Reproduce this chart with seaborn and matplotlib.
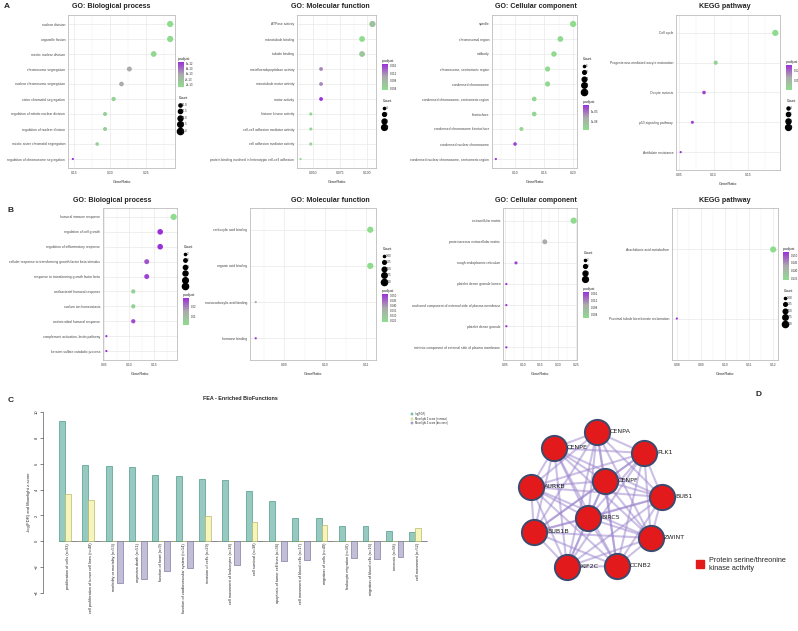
import itertools
import numpy as np
import pandas as pd
import matplotlib
matplotlib.use("Agg")
import matplotlib.pyplot as plt
import seaborn as sns
from matplotlib.colors import LinearSegmentedColormap, Normalize
from matplotlib.cm import ScalarMappable
from matplotlib.lines import Line2D
from matplotlib.patches import Patch
from matplotlib.ticker import AutoMinorLocator

sns.set_theme(style="white")
plt.rcParams["font.family"] = ["Liberation Sans", "DejaVu Sans"]

W, H = 798, 631

# ---------------- A: enrichment, first gene set ----------------
a_bp_terms = ["nuclear division", "organelle fission", "mitotic nuclear division",
              "chromosome segregation", "nuclear chromosome segregation",
              "sister chromatid segregation", "regulation of mitotic nuclear division",
              "regulation of nuclear division", "mitotic sister chromatid segregation",
              "regulation of chromosome segregation"]
a_bp_ratio = [0.284, 0.284, 0.261, 0.227, 0.216, 0.205, 0.193, 0.193, 0.182, 0.148]
a_bp_count = [25, 25, 23, 20, 19, 18, 17, 17, 16, 13]
a_bp_padj = [1.0e-13, 1.2e-13, 1.5e-13, 5.6e-13, 5.8e-13, 2.0e-13, 2.2e-13, 2.4e-13, 2.0e-13, 1.05e-12]

a_mf_terms = ["ATPase activity", "microtubule binding", "tubulin binding",
              "metalloendopeptidase activity", "microtubule motor activity", "motor activity",
              "histone kinase activity", "cell-cell adhesion mediator activity",
              "cell adhesion mediator activity",
              "protein binding involved in heterotypic cell-cell adhesion"]
a_mf_ratio = [0.1048, 0.0952, 0.0952, 0.0571, 0.0571, 0.0571, 0.0476, 0.0476, 0.0476, 0.0381]
a_mf_count = [11, 10, 10, 6, 6, 6, 5, 5, 5, 4]
a_mf_padj = [0.007, 0.003, 0.006, 0.012, 0.012, 0.017, 0.004, 0.004, 0.004, 0.003]

a_cc_terms = ["spindle", "chromosomal region", "midbody", "chromosome, centromeric region",
              "condensed chromosome", "condensed chromosome, centromeric region", "kinetochore",
              "condensed chromosome kinetochore", "condensed nuclear chromosome",
              "condensed nuclear chromosome, centromeric region"]
a_cc_ratio = [0.200, 0.178, 0.167, 0.156, 0.156, 0.133, 0.133, 0.111, 0.100, 0.067]
a_cc_count = [18, 16, 15, 14, 14, 12, 12, 10, 9, 6]
a_cc_padj = [1.0e-6, 1.2e-6, 1.3e-6, 1.5e-6, 1.5e-6, 1.8e-6, 1.8e-6, 2.0e-6, 1.2e-5, 1.3e-5]

a_kegg_terms = ["Cell cycle", "Progesterone-mediated oocyte maturation", "Oocyte meiosis",
                "p53 signaling pathway", "Antifolate resistance"]
a_kegg_ratio = [0.190, 0.103, 0.086, 0.069, 0.052]
a_kegg_count = [11, 6, 5, 4, 3]
a_kegg_padj = [0.001, 0.004, 0.024, 0.025, 0.026]

# ---------------- B: enrichment, second gene set ----------------
b_bp_terms = ["humoral immune response", "regulation of cell growth",
              "regulation of inflammatory response",
              "cellular response to transforming growth factor beta stimulus",
              "response to transforming growth factor beta", "antibacterial humoral response",
              "sodium ion homeostasis", "antimicrobial humoral response",
              "complement activation, lectin pathway", "keratan sulfate catabolic process"]
b_bp_ratio = [0.189, 0.162, 0.162, 0.135, 0.135, 0.108, 0.108, 0.108, 0.054, 0.054]
b_bp_count = [7, 6, 6, 5, 5, 4, 4, 4, 2, 2]
b_bp_padj = [0.001, 0.028, 0.028, 0.024, 0.026, 0.004, 0.004, 0.025, 0.028, 0.028]

b_mf_terms = ["carboxylic acid binding", "organic acid binding",
              "monocarboxylic acid binding", "hormone binding"]
b_mf_ratio = [0.111, 0.111, 0.083, 0.083]
b_mf_count = [4, 4, 3, 3]
b_mf_padj = [0.024, 0.024, 0.038, 0.051]

b_cc_terms = ["extracellular matrix", "proteinaceous extracellular matrix",
              "rough endoplasmic reticulum", "platelet dense granule lumen",
              "anchored component of external side of plasma membrane",
              "platelet dense granule",
              "intrinsic component of external side of plasma membrane"]
b_cc_ratio = [0.243, 0.162, 0.081, 0.054, 0.054, 0.054, 0.054]
b_cc_count = [9, 6, 3, 2, 2, 2, 2]
b_cc_padj = [0.002, 0.0095, 0.016, 0.017, 0.017, 0.017, 0.017]

b_kegg_terms = ["Arachidonic acid metabolism", "Proximal tubule bicarbonate reclamation"]
b_kegg_ratio = [0.120, 0.080]
b_kegg_count = [3, 2]
b_kegg_padj = [0.134, 0.152]

# ---------------- C: Moonlight FEA ----------------
c_terms = ["proliferation of cells (n=93)", "cell proliferation of tumor cell lines (n=48)",
           "morbidity or mortality (n=53)", "organism death (n=51)",
           "function of heart (n=9)", "function of cardiovascular system (n=14)",
           "invasion of cells (n=29)", "cell movement of leukocytes (n=18)",
           "cell survival (n=38)", "apoptosis of tumor cell lines (n=36)",
           "cell movement of blood cells (n=17)", "migration of cells (n=49)",
           "leukocyte migration (n=16)", "migration of blood cells (n=16)",
           "necrosis (n=58)", "cell movement (n=52)"]
c_logfdr = [9.28, 5.88, 5.80, 5.75, 5.13, 5.03, 4.85, 4.77, 3.87, 3.09, 1.78, 1.78, 1.16, 1.16, 0.80, 0.72]
c_z_up = [3.69, 3.22, 0, 0, 0, 0, 1.93, 0, 1.47, 0, 0, 1.26, 0, 0, 0, 1.06]
c_z_down = [0, 0, -3.22, -2.89, -2.27, -2.06, 0, -1.80, 0, -1.49, -1.47, 0, -1.31, -1.34, -1.21, 0]
c_series = ["-log(FDR)", "Moonlight Z score (increase)", "Moonlight Z score (decrease)"]

# ---------------- D: PPI network ----------------
d_genes = ["CENPA", "CENPE", "PLK1", "CENPF", "AURKB", "BUB1", "BIRC5",
           "BUB1B", "ZWINT", "KIF2C", "CCNB2"]
d_edges = list(itertools.combinations(d_genes, 2))
d_module = "Protein serine/threonine\nkinase activity"

# layout of the network drawing (figure pixels)
net_layout = {"CENPA": (597, 432), "CENPE": (554, 448), "PLK1": (644, 453),
              "CENPF": (605, 481), "AURKB": (531, 487), "BUB1": (662, 497),
              "BIRC5": (588, 518), "BUB1B": (534, 532), "ZWINT": (651, 538),
              "KIF2C": (567, 567), "CCNB2": (617, 566)}

cmap = LinearSegmentedColormap.from_list("padj", ["#8fdc8f", "#ababab", "#9b30d9"])
SIZES = (2.5, 20)

fig = plt.figure(figsize=(W / 100, H / 100), dpi=100)


def px_axes(left, top, right, bottom):
    return fig.add_axes([left / W, 1 - bottom / H, (right - left) / W, (bottom - top) / H])


def dotplot(box, title, tx, terms, ratio, count, padj, xticks, xlabels,
            breaks, break_labels, pticks, plabels, cbar_box, count_pos):
    ax = px_axes(*box)
    n = len(terms)
    df = pd.DataFrame({"GeneRatio": ratio, "Count": count, "p.adjust": padj, "pos": np.arange(n)})
    norm = Normalize(min(padj), max(padj))
    cmin, cmax = min(count), max(count)
    sns.scatterplot(data=df, x="GeneRatio", y="pos", hue="p.adjust", size="Count",
                    palette=cmap, hue_norm=norm, sizes=SIZES, size_norm=(cmin, cmax),
                    linewidth=0, legend=False, ax=ax, zorder=3)
    lo, hi = min(ratio), max(ratio)
    pad = (hi - lo) * 0.05
    ax.set_xlim(lo - pad, hi + pad)
    ax.set_ylim(n - 0.4, -0.6)
    ax.set_yticks(range(n))
    ax.set_yticklabels(terms)
    ax.set_xticks(xticks)
    ax.set_xticklabels(xlabels)
    ax.xaxis.set_minor_locator(AutoMinorLocator(2))
    ax.grid(True, which="major", color="#e6e6e6", lw=0.45)
    ax.grid(True, which="minor", axis="x", color="#f0f0f0", lw=0.3)
    ax.set_axisbelow(True)
    for s in ax.spines.values():
        s.set_color("#bdbdbd")
        s.set_linewidth(0.6)
    ax.tick_params(labelsize=2.4, length=1, width=0.3, pad=1, colors="#444444")
    ax.set_xlabel("GeneRatio", fontsize=2.8, labelpad=1, color="#222222")
    ax.set_ylabel("")
    fig.text(tx / W, 1 - box[1] / H + 8 / H, title, ha="center", va="center",
             fontsize=5.1, fontweight="bold", color="#222222")

    # colour bar for p.adjust
    cax = px_axes(*cbar_box)
    cb = fig.colorbar(ScalarMappable(norm=norm, cmap=cmap), cax=cax)
    cb.outline.set_visible(False)
    cb.set_ticks(pticks, labels=plabels)
    cax.tick_params(labelsize=2.1, length=0, pad=1)
    fig.text(cbar_box[0] / W, 1 - (cbar_box[1] - 1) / H, "p.adjust", fontsize=2.5,
             ha="left", va="bottom")

    # size legend for Count
    handles = []
    for b, lab in zip(breaks, break_labels):
        area = SIZES[0] + (b - cmin) / (cmax - cmin) * (SIZES[1] - SIZES[0])
        handles.append(Line2D([], [], marker="o", ls="", color="black",
                              markersize=np.sqrt(area), label=lab))
    ax.legend(handles=handles, title="Count", loc="upper left",
              bbox_to_anchor=(count_pos[0] / W, 1 - count_pos[1] / H),
              bbox_transform=fig.transFigure, frameon=False, fontsize=2.1,
              title_fontsize=2.5, borderpad=0, labelspacing=0.85,
              handletextpad=0.3, handlelength=1.0, alignment="left")
    return ax


# ---- row A
dotplot((68, 15, 175, 168), "GO: Biological process", 111,
        a_bp_terms, a_bp_ratio, a_bp_count, a_bp_padj,
        [0.15, 0.20, 0.25], ["0.15", "0.20", "0.25"],
        [15, 17.5, 20, 22.5, 25], ["15.0", "17.5", "20.0", "22.5", "25.0"],
        [2e-13, 4e-13, 6e-13, 8e-13, 1e-12], ["2e-13", "4e-13", "6e-13", "8e-13", "1e-12"],
        (178, 62, 184, 87), (177, 95))
dotplot((297, 15, 376, 168), "GO: Molecular function", 330,
        a_mf_terms, a_mf_ratio, a_mf_count, a_mf_padj,
        [0.050, 0.075, 0.100], ["0.050", "0.075", "0.100"],
        [4, 6, 8, 10], ["4", "6", "8", "10"],
        [0.004, 0.008, 0.012, 0.016], ["0.004", "0.008", "0.012", "0.016"],
        (382, 64, 388, 90), (381, 98))
dotplot((492, 15, 577, 168), "GO: Cellular component", 536,
        a_cc_terms, a_cc_ratio, a_cc_count, a_cc_padj,
        [0.10, 0.15, 0.20], ["0.10", "0.15", "0.20"],
        [6, 9, 12, 15, 18], ["6", "9", "12", "15", "18"],
        [5e-6, 1e-5], ["5e-06", "1e-05"],
        (583, 105, 589, 130), (581, 56))
dotplot((676, 15, 780, 170), "KEGG pathway", 725,
        a_kegg_terms, a_kegg_ratio, a_kegg_count, a_kegg_padj,
        [0.05, 0.10, 0.15], ["0.05", "0.10", "0.15"],
        [4, 6, 8, 10], ["4", "6", "8", "10"],
        [0.01, 0.02], ["0.01", "0.02"],
        (786, 65, 792, 90), (785, 98))

# ---- row B
dotplot((103, 208, 177, 360), "GO: Biological process", 112,
        b_bp_terms, b_bp_ratio, b_bp_count, b_bp_padj,
        [0.05, 0.10, 0.15], ["0.05", "0.10", "0.15"],
        [2, 3, 4, 5, 6, 7], ["2", "3", "4", "5", "6", "7"],
        [0.01, 0.02], ["0.01", "0.02"],
        (183, 298, 189, 325), (182, 244))
dotplot((250, 208, 376, 360), "GO: Molecular function", 330,
        b_mf_terms, b_mf_ratio, b_mf_count, b_mf_padj,
        [0.09, 0.10, 0.11], ["0.09", "0.10", "0.11"],
        [3.0, 3.25, 3.5, 3.75, 4.0], ["3.00", "3.25", "3.50", "3.75", "4.00"],
        [0.025, 0.030, 0.035, 0.040, 0.045, 0.050],
        ["0.025", "0.030", "0.035", "0.040", "0.045", "0.050"],
        (382, 294, 388, 322), (381, 246))
dotplot((503, 208, 577, 360), "GO: Cellular component", 536,
        b_cc_terms, b_cc_ratio, b_cc_count, b_cc_padj,
        [0.05, 0.10, 0.15, 0.20, 0.25], ["0.05", "0.10", "0.15", "0.20", "0.25"],
        [2, 4, 6, 8], ["2", "4", "6", "8"],
        [0.004, 0.008, 0.012, 0.016], ["0.004", "0.008", "0.012", "0.016"],
        (583, 292, 589, 318), (582, 250))
dotplot((672, 208, 778, 360), "KEGG pathway", 725,
        b_kegg_terms, b_kegg_ratio, b_kegg_count, b_kegg_padj,
        [0.08, 0.09, 0.10, 0.11, 0.12], ["0.08", "0.09", "0.10", "0.11", "0.12"],
        [2.0, 2.25, 2.5, 2.75, 3.0], ["2.00", "2.25", "2.50", "2.75", "3.00"],
        [0.135, 0.140, 0.145, 0.150], ["0.135", "0.140", "0.145", "0.150"],
        (783, 252, 789, 280), (782, 288))

# ---- C: grouped bars
axc = px_axes(43, 412, 460, 593)
fea = pd.DataFrame({"term": c_terms, c_series[0]: c_logfdr,
                    c_series[1]: c_z_up, c_series[2]: c_z_down})
fea_long = fea.melt(id_vars="term", var_name="series", value_name="value")
bar_fill = ["#8dd3c7", "#ffffb3", "#bebada"]
bar_edge = ["#4f9a8a", "#b9b96a", "#7f7ba6"]
sns.barplot(data=fea_long, x="term", y="value", hue="series", order=c_terms,
            hue_order=c_series, palette=bar_fill, width=0.75, gap=0,
            legend=False, ax=axc, linewidth=0.5)
for cont, ec in zip(axc.containers, bar_edge):
    for p in cont:
        p.set_edgecolor(ec)
axc.hlines(0, -0.375, len(c_terms) - 0.625, color="#8a8a6a", lw=0.6, zorder=0)
axc.set_xlim(-1.06, 16.8)
axc.set_ylim(-4, 10)
axc.set_xticks([])
axc.set_xlabel("")
axc.set_yticks(range(-4, 11, 2))
for t in axc.get_yticklabels():
    t.set_rotation(90)
    t.set_va("center")
axc.tick_params(axis="y", labelsize=3, length=2, width=0.4, pad=1, direction="out", left=True)
for side in ["top", "right", "bottom"]:
    axc.spines[side].set_visible(False)
axc.spines["left"].set_bounds(-4, 10)
axc.spines["left"].set_linewidth(0.4)
axc.spines["left"].set_color("#333333")
axc.set_ylabel("-log(FDR) and Moonlight z-score", fontsize=3, labelpad=3)
for i, term in enumerate(c_terms):
    axc.text(i, -0.12, term, rotation=90, ha="center", va="top", fontsize=2.8, color="#222222")
axc.legend(handles=[Patch(facecolor=f, edgecolor=e, lw=0.3, label=l)
                    for f, e, l in zip(bar_fill, bar_edge, c_series)],
           loc="upper left", bbox_to_anchor=(410 / W, 1 - 411 / H),
           bbox_transform=fig.transFigure, frameon=False, fontsize=1.8,
           handlelength=0.8, handleheight=0.8, borderpad=0, labelspacing=0.2)
fig.text(240 / W, 1 - 399 / H, "FEA - Enriched BioFunctions", ha="center", va="center",
         fontsize=3.9, fontweight="bold")

# ---- D: network
axd = px_axes(500, 395, 798, 631)
axd.set_xlim(500, 798)
axd.set_ylim(631, 395)
axd.axis("off")
for g1, g2 in d_edges:
    (x1, y1), (x2, y2) = net_layout[g1], net_layout[g2]
    axd.plot([x1, x2], [y1, y2], color="#9a84cc", alpha=0.5, lw=1.5,
             solid_capstyle="round", zorder=1)
nodes = pd.DataFrame({"gene": d_genes,
                      "x": [net_layout[g][0] for g in d_genes],
                      "y": [net_layout[g][1] for g in d_genes]})
sns.scatterplot(data=nodes, x="x", y="y", s=330, color="#e31a1c", edgecolor="#3b4a6e",
                linewidth=1.4, ax=axd, zorder=3, legend=False)
for _, r in nodes.iterrows():
    axd.text(r["x"] + 13, r["y"], r["gene"], fontsize=4.6, ha="left", va="center",
             color="#222222", family=["DejaVu Sans"], zorder=4)
axd.set_xlabel("")
axd.set_ylabel("")
axd.legend(handles=[Patch(facecolor="#e31a1c", edgecolor="#e31a1c", label=d_module)],
           loc="center left", bbox_to_anchor=(692 / W, 1 - 564 / H),
           bbox_transform=fig.transFigure, frameon=False, fontsize=5.2,
           handlelength=1.1, handleheight=1.3, handletextpad=0.7, borderpad=0)

# panel letters
for lab, x, y in [("A", 4, 3), ("B", 8, 207), ("C", 8, 397), ("D", 755, 391)]:
    fig.text(x / W, 1 - y / H, lab, fontsize=6, fontweight="bold", va="top", ha="left")

fig.savefig("out.png", dpi=100)
